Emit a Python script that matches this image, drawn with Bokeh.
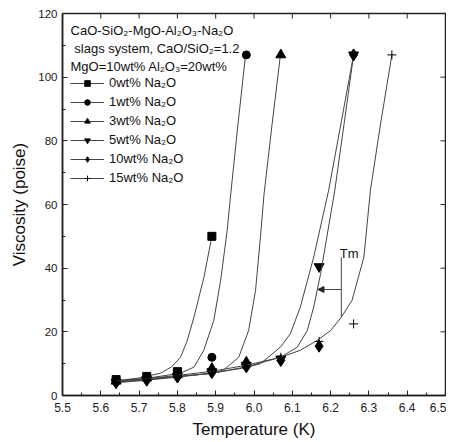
import numpy as np
from bokeh.plotting import figure
from bokeh.models import (Range1d, FixedTicker, Legend, LegendItem,
                          Label, Arrow, NormalHead, ColumnDataSource, NumeralTickFormatter)
from bokeh.embed import file_html
from bokeh.resources import INLINE

# ---- data ----
temps = [5.64, 5.72, 5.80, 5.89, 5.98, 6.07, 6.17, 6.26, 6.36]
visc_0 = [5.0, 6.0, 7.5, 50.0]
visc_1 = [4.8, 5.8, 7.0, 12.0, 107.0]
visc_3 = [4.5, 5.5, 6.5, 8.5, 10.5, 107.0]
visc_5 = [4.2, 5.0, 6.0, 7.5, 9.5, 11.5, 40.5, 107.0]
visc_10 = [4.0, 4.8, 5.8, 7.2, 9.0, 11.0, 15.5, 107.0]
visc_15 = [4.5, 5.2, 6.2, 7.8, 9.5, 12.0, 17.0, 22.5, 107.0]

# fitted curves as drawn in the reference
fit0_x = [5.64, 5.70, 5.756, 5.785, 5.808, 5.825, 5.843, 5.869, 5.89]
fit0_y = [4.6, 5.5, 7.0, 9.0, 12.0, 17.0, 24.5, 37.0, 50.0]
fit1_x = [5.64, 5.72, 5.808, 5.843, 5.869, 5.895, 5.913, 5.93, 5.939, 5.958, 5.978]
fit1_y = [4.5, 5.4, 7.0, 8.9, 14.2, 23.6, 36.2, 51.9, 63.0, 85.0, 107.0]
fit3_x = [5.64, 5.72, 5.80, 5.895, 5.921, 5.96, 5.986, 6.004, 6.017, 6.026, 6.047, 6.069]
fit3_y = [4.4, 5.2, 6.0, 7.0, 8.0, 12.0, 20.4, 33.0, 50.0, 63.0, 85.0, 107.0]
fit5_x = [5.64, 5.72, 5.80, 5.89, 5.98, 6.017, 6.069, 6.095, 6.121, 6.156, 6.195, 6.228, 6.26]
fit5_y = [4.2, 5.0, 5.9, 7.0, 8.8, 10.0, 15.2, 19.4, 27.8, 43.5, 64.5, 86.0, 107.0]
fit10_x = [5.64, 5.72, 5.80, 5.89, 5.98, 6.069, 6.113, 6.139, 6.156, 6.174, 6.211, 6.236, 6.26]
fit10_y = [4.0, 4.8, 5.8, 7.0, 9.0, 12.0, 15.2, 20.4, 27.8, 38.3, 64.5, 86.0, 107.0]
fit15_x = [5.64, 5.72, 5.80, 5.89, 5.98, 6.069, 6.121, 6.165, 6.20, 6.228, 6.256, 6.287, 6.304, 6.33, 6.36]
fit15_y = [4.6, 5.3, 6.3, 7.6, 9.5, 12.0, 14.2, 17.3, 20.4, 24.6, 29.9, 43.5, 64.5, 85.0, 107.0]

series_labels = ["0wt% Na₂O", "1wt% Na₂O", "3wt% Na₂O", "5wt% Na₂O", "10wt% Na₂O", "15wt% Na₂O"]
header_lines = ["CaO-SiO₂-MgO-Al₂O₃-Na₂O", " slags system, CaO/SiO₂=1.2", "MgO=10wt% Al₂O₃=20wt%"]
x_ticks = [5.5, 5.6, 5.7, 5.8, 5.9, 6.0, 6.1, 6.2, 6.3, 6.4, 6.5]
y_ticks = [0, 20, 40, 60, 80, 100, 120]
tm_x, tm_y0, tm_y1, tm_arrow_y, tm_arrow_end = 6.228, 24.6, 43.4, 33.3, 6.167

FONT = "Liberation Sans"
INK = "#222222"
X0, X1, Y0, Y1 = 5.5, 6.5, 0, 120

p = figure(width=446, height=441, output_backend="svg", toolbar_location=None,
           x_range=Range1d(X0, X1), y_range=Range1d(Y0, Y1),
           min_border_left=62, min_border_right=1, min_border_top=13, min_border_bottom=46)
p.background_fill_color = "white"
p.border_fill_color = "white"
p.outline_line_color = INK
p.outline_line_width = 1.5
p.xgrid.visible = False
p.ygrid.visible = False

minor_x = [round(5.55 + 0.1 * i, 2) for i in range(10)]
minor_y = [10, 30, 50, 70, 90, 110]

for ax in p.xaxis:
    ax.ticker = FixedTicker(ticks=x_ticks, minor_ticks=minor_x)
    ax.formatter = NumeralTickFormatter(format="0.0")
for ax in p.yaxis:
    ax.ticker = FixedTicker(ticks=y_ticks, minor_ticks=minor_y)

for ax in p.axis:
    ax.axis_line_color = INK
    ax.axis_line_width = 1.5
    ax.major_tick_in = 5
    ax.major_tick_out = 0
    ax.minor_tick_in = 3
    ax.minor_tick_out = 0
    ax.major_tick_line_color = INK
    ax.minor_tick_line_color = INK
    ax.major_label_text_font = FONT
    ax.major_label_text_color = INK
    ax.axis_label_text_font = FONT
    ax.axis_label_text_font_style = "normal"
    ax.axis_label_text_font_size = "17px"
    ax.axis_label_text_color = "#111111"

p.xaxis.major_label_text_font_size = "12px"
p.yaxis.major_label_text_font_size = "11.5px"
p.xaxis.major_label_standoff = 7
p.yaxis.major_label_standoff = 5
p.xaxis.axis_label = "Temperature (K)"
p.yaxis.axis_label = "Viscosity (poise)"
p.xaxis.axis_label_standoff = 5
p.yaxis.axis_label_standoff = 6

# mirror ticks on the top and right frame edges (tick length in screen px)
tick_px = 5
frame_w_px, frame_h_px = 383.0, 382.0
dx = tick_px * (X1 - X0) / frame_w_px
dy = tick_px * (Y1 - Y0) / frame_h_px
p.segment(x0=x_ticks, y0=[Y1] * len(x_ticks), x1=x_ticks, y1=[Y1 - dy] * len(x_ticks),
          line_color=INK, line_width=1)
p.segment(x0=[X1] * len(y_ticks), y0=y_ticks, x1=[X1 - dx] * len(y_ticks), y1=y_ticks,
          line_color=INK, line_width=1)

all_series = [visc_0, visc_1, visc_3, visc_5, visc_10, visc_15]
fits = [(fit0_x, fit0_y), (fit1_x, fit1_y), (fit3_x, fit3_y),
        (fit5_x, fit5_y), (fit10_x, fit10_y), (fit15_x, fit15_y)]
markers = ["square", "circle", "triangle", "inverted_triangle", "diamond", "cross"]
sizes = [8, 8, 10, 10, 12, 9]

items = []
for vals, (fx, fy), mk, sz, lab in zip(all_series, fits, markers, sizes, series_labels):
    xs = temps[:len(vals)]
    lr = p.line(fx, fy, line_color="#444444", line_width=1)
    src = ColumnDataSource(dict(x=xs, y=vals))
    sr = p.scatter("x", "y", source=src, marker=mk, size=sz, line_color="black",
                   line_width=1, fill_color="black")
    items.append(LegendItem(label=lab, renderers=[lr, sr]))

legend = Legend(items=items, location=(8, 210), padding=0, margin=0, spacing=4,
                glyph_width=34, glyph_height=14, label_height=14, label_standoff=5,
                label_text_font=FONT, label_text_font_size="13px",
                label_text_color="#111111", border_line_color=None,
                background_fill_alpha=0)
p.add_layout(legend)

header_y = [114.8, 108.9, 103.2]
header_x = [5.521, 5.531, 5.521]
for txt, hx, hy in zip(header_lines, header_x, header_y):
    p.add_layout(Label(x=hx, y=hy, text=txt, text_font=FONT, text_font_size="13px",
                       text_baseline="middle", text_color="#111111"))

# Tm annotation
p.segment(x0=[tm_x], y0=[tm_y0], x1=[tm_x], y1=[tm_y1], line_color="#444444", line_width=1)
p.add_layout(Arrow(x_start=tm_x, y_start=tm_arrow_y, x_end=tm_arrow_end, y_end=tm_arrow_y,
                   line_color="#444444", line_width=1,
                   end=NormalHead(size=6, fill_color=INK, line_color=INK)))
p.add_layout(Label(x=tm_x - 0.004, y=tm_y1 + 1.3, text="Tm", text_font=FONT,
                   text_font_size="13px", text_baseline="middle", text_color="#111111"))

open("out.html", "w").write(file_html(p, INLINE))
